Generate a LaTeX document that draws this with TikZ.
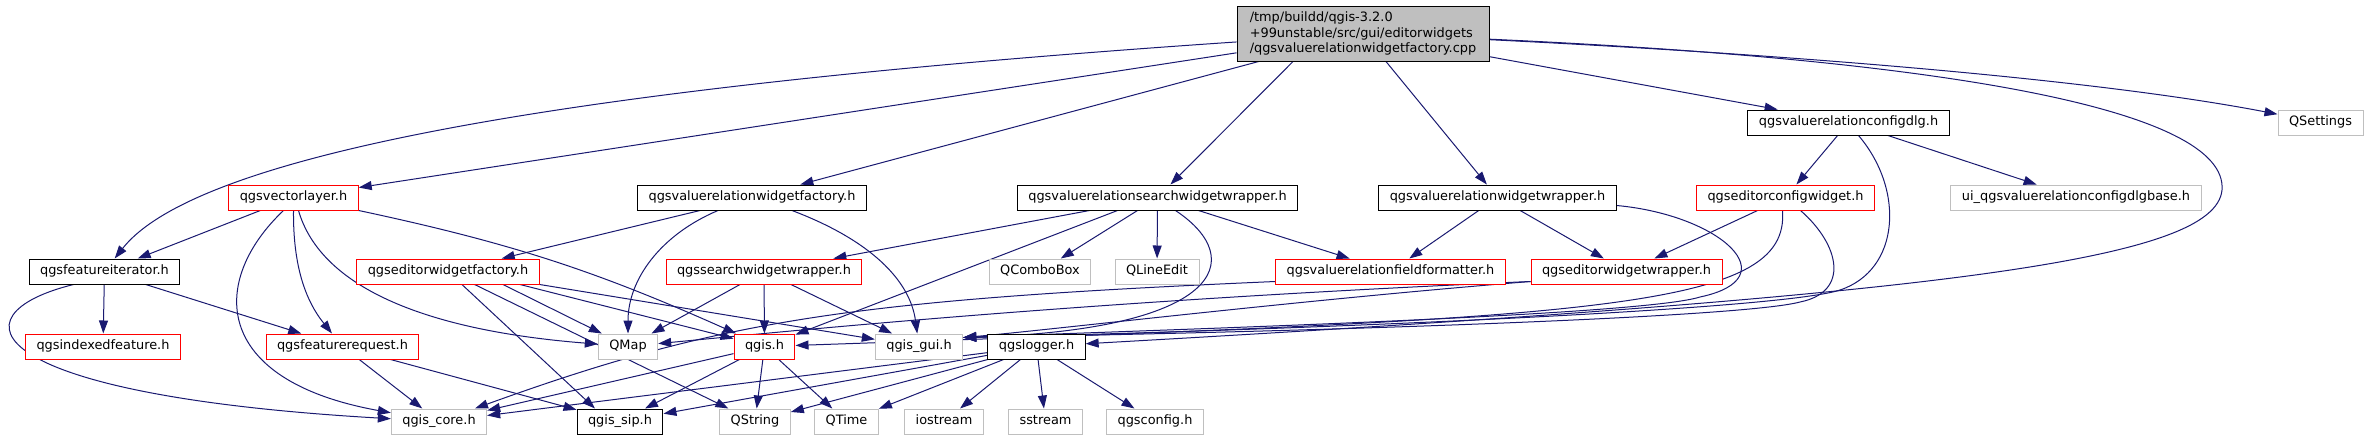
\documentclass[tikz,border=0pt]{standalone}
\usepackage{fontspec}
\setmainfont{DejaVu Sans}
\usepackage{xcolor}
\usepackage{tikz}
\usetikzlibrary{arrows.meta, backgrounds}

\definecolor{edgeblue}{HTML}{191970}
\definecolor{boxgrey}{HTML}{BFBFBF}
\newcommand{\dotfont}{\fontsize{12.9}{15.5}\selectfont}

\begin{document}
\begin{tikzpicture}[
    x=1pt, y=-1pt,
    >={Triangle[length=13pt, width=9pt]},
    file/.style={draw=black, fill=white, rectangle, line width=1pt,
      minimum height=25pt, inner xsep=11pt, inner ysep=0pt,
      text height=9.6pt, text depth=2.9pt, font=\dotfont},
    trunc/.style={file, draw=red},
    ext/.style={file, draw=boxgrey},
    src/.style={draw=black, fill=boxgrey, rectangle, line width=1pt, align=left,
      minimum width=252pt, minimum height=55pt, inner sep=0pt, font=\dotfont},
    edge/.style={draw=edgeblue, line width=1pt, ->}
]
\useasboundingbox (0,0) rectangle (2368,440);

% rows of the include graph
\node[src] (root) at (1363,33.5) {/tmp/buildd/qgis-3.2.0\\+99unstable/src/gui/editorwidgets\\/qgsvaluerelationwidgetfactory.cpp};

\node[file] (cfgdlg) at (1848.5,122.5) {qgsvaluerelationconfigdlg.h};
\node[ext] (qsettings) at (2320.5,122.5) {QSettings};

\node[trunc] (veclayer) at (293.5,197.5) {qgsvectorlayer.h};
\node[file] (vrfactory) at (752,197.5) {qgsvaluerelationwidgetfactory.h};
\node[file] (vrsearch) at (1157.5,197.5) {qgsvaluerelationsearchwidgetwrapper.h};
\node[file] (vrwrapper) at (1497.5,197.5) {qgsvaluerelationwidgetwrapper.h};
\node[trunc] (cfgwidget) at (1785.5,197.5) {qgseditorconfigwidget.h};
\node[ext] (uibase) at (2076,197.5) {ui\_qgsvaluerelationconfigdlgbase.h};

\node[file] (featiter) at (104.5,271.5) {qgsfeatureiterator.h};
\node[trunc] (edfactory) at (448,271.5) {qgseditorwidgetfactory.h};
\node[trunc] (searchwrap) at (764,271.5) {qgssearchwidgetwrapper.h};
\node[ext] (qcombo) at (1040,271.5) {QComboBox};
\node[ext] (qlineedit) at (1157,271.5) {QLineEdit};
\node[trunc] (vrformatter) at (1390.5,271.5) {qgsvaluerelationfieldformatter.h};
\node[trunc] (edwrapper) at (1626.5,271.5) {qgseditorwidgetwrapper.h};

\node[trunc] (idxfeat) at (103,346.5) {qgsindexedfeature.h};
\node[trunc] (featreq) at (342.5,346.5) {qgsfeaturerequest.h};
\node[ext] (qmap) at (628,346.5) {QMap};
\node[trunc] (qgis) at (764.5,346.5) {qgis.h};
\node[ext] (qgisgui) at (919,346.5) {qgis\_gui.h};
\node[file] (qgslogger) at (1036.5,346.5) {qgslogger.h};

\node[ext] (qgiscore) at (439,421.5) {qgis\_core.h};
\node[file] (qgissip) at (620,421.5) {qgis\_sip.h};
\node[ext] (qstring) at (755,421.5) {QString};
\node[ext] (qtime) at (846.5,421.5) {QTime};
\node[ext] (iostream) at (944,421.5) {iostream};
\node[ext] (sstream) at (1045.5,421.5) {sstream};
\node[ext] (qgsconfig) at (1155,421.5) {qgsconfig.h};

\begin{scope}[on background layer]
% includes of the source file
\draw[edge] (root) .. controls (600,85) and (200,150) .. (featiter);
\draw[edge] (root) -- (veclayer);
\draw[edge] (root) -- (vrfactory);
\draw[edge] ([xshift=-70pt]root.south) -- (vrsearch);
\draw[edge] (root) -- (vrwrapper);
\draw[edge] (root) -- (cfgdlg);
\draw[edge] (root) .. controls (1800,55) and (2100,80) .. (qsettings);
\draw[edge] (root) .. controls (1950,60) and (2228,110) .. (2222,190)
  .. controls (2215,260) and (1950,295) .. (qgslogger);

\draw[edge] (veclayer) -- (featiter);
\draw[edge] ([xshift=-10pt]veclayer.south) .. controls (210,280) and (210,380) .. (qgiscore);
\draw[edge] (veclayer.south) .. controls (293,265) and (305,300) .. (featreq);
\draw[edge] ([xshift=5pt]veclayer.south) .. controls (320,285) and (420,330) .. (qmap);
\draw[edge] (veclayer.south east) to[bend left=6] (qgis);

\draw[edge] (featiter) -- (idxfeat);
\draw[edge] (featiter) -- (featreq);
\draw[edge] ([xshift=-31pt]featiter.south) .. controls (-50,315) and (-20,395) .. (qgiscore);

\draw[edge] (edfactory) -- ([xshift=-25pt]qgissip.north);
\draw[edge] (edfactory) -- (qstring);
\draw[edge] ([xshift=55pt]edfactory.south) -- (qmap);
\draw[edge] ([xshift=72pt]edfactory.south) -- (qgis);
\draw[edge] (edfactory.south east) -- (qgisgui);

\draw[edge] ([xshift=-52pt]vrfactory.south) -- (edfactory);
\draw[edge] ([xshift=-34pt]vrfactory.south) .. controls (660,235) and (628,280) .. (qmap);
\draw[edge] ([xshift=40pt]vrfactory.south) .. controls (870,240) and (910,280) .. (qgisgui);

\draw[edge] ([xshift=-24pt]searchwrap.south) -- (qmap);
\draw[edge] (searchwrap) -- (qgis);
\draw[edge] ([xshift=27pt]searchwrap.south) -- (qgisgui);

\draw[edge] ([xshift=-68pt]vrsearch.south) -- (searchwrap);
\draw[edge] ([xshift=-40pt]vrsearch.south) -- (qgis);
\draw[edge] ([xshift=-20pt]vrsearch.south) -- (qcombo);
\draw[edge] (vrsearch) -- (qlineedit);
\draw[edge] ([xshift=18pt]vrsearch.south) .. controls (1250,260) and (1220,330) .. ([yshift=9pt]qgisgui.east);
\draw[edge] ([xshift=41pt]vrsearch.south) -- (vrformatter);

\draw[edge] (vrwrapper) -- (vrformatter);
\draw[edge] (vrwrapper) -- (edwrapper);
\draw[edge] ([yshift=-8pt]vrwrapper.east) .. controls (1720,215) and (1790,278) .. (1700,297)
  .. controls (1640,316) and (1150,330) .. ([yshift=9pt]qgisgui.east);

\draw[edge] ([yshift=-10pt]edwrapper.west) .. controls (1100,300) and (800,330) .. (qmap);
\draw[edge] ([yshift=-10pt]edwrapper.west) .. controls (1300,300) and (1050,330) .. ([yshift=9pt]qgisgui.east);

\draw[edge] ([yshift=-10pt]vrformatter.west) .. controls (850,300) and (720,320) .. (qgiscore);

\draw[edge] (cfgwidget) -- (edwrapper);
\draw[edge] ([xshift=-3pt]cfgwidget.south) .. controls (1790,310) and (1600,318) .. (qgis);
\draw[edge] ([xshift=15pt]cfgwidget.south) .. controls (1840,245) and (1850,292) .. (1800,302)
  .. controls (1740,318) and (1300,332) .. ([yshift=9pt]qgisgui.east);

\draw[edge] (cfgdlg) -- (cfgwidget);
\draw[edge] (cfgdlg) -- (uibase);
\draw[edge] ([xshift=10pt]cfgdlg.south) .. controls (1905,190) and (1900,270) .. (1840,290)
  .. controls (1780,310) and (1300,330) .. ([yshift=9pt]qgisgui.east);

\draw[edge] (featreq) -- (qgiscore);
\draw[edge] (featreq) -- (qgissip);

\draw[edge] (qgis) -- (qgiscore);
\draw[edge] (qgis) -- (qgissip);
\draw[edge] (qgis) -- (qstring);
\draw[edge] (qgis) -- (qtime);

\draw[edge] (qgslogger) -- (qgiscore);
\draw[edge] (qgslogger) -- (qgissip);
\draw[edge] (qgslogger) -- (qstring);
\draw[edge] (qgslogger) -- (qtime);
\draw[edge] (qgslogger) -- (iostream);
\draw[edge] (qgslogger) -- (sstream);
\draw[edge] (qgslogger) -- (qgsconfig);
\end{scope}
\end{tikzpicture}
\end{document}
